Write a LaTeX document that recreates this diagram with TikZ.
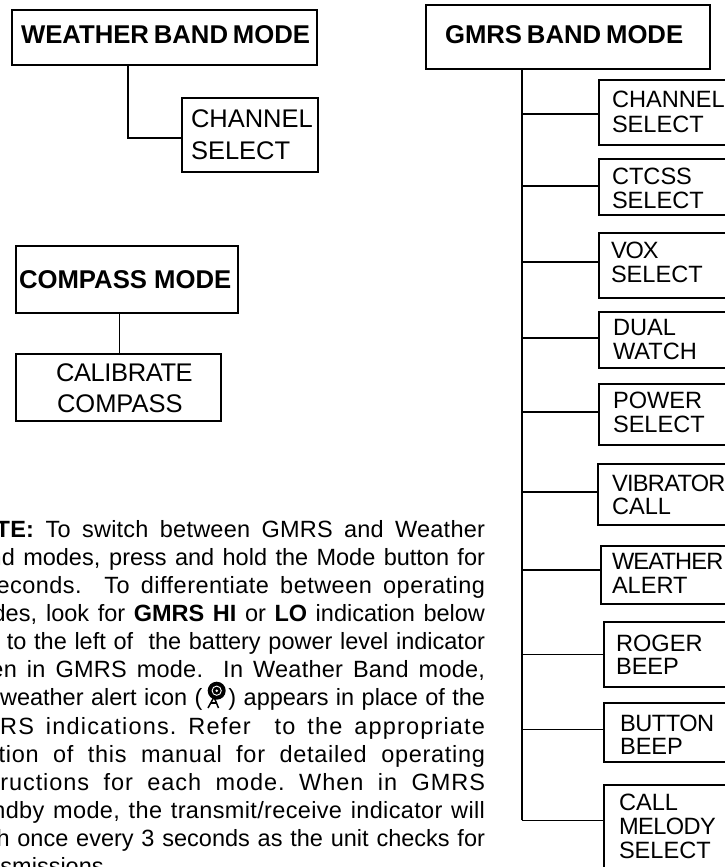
\documentclass[tikz,border=0pt]{standalone}
\usepackage{fontspec}
\setmainfont{Liberation Sans}
\newcommand{\nln}[1]{\makebox[525pt][s]{#1}\\}
\newcommand{\lsp}[2]{\makebox[525pt][s]{\frenchspacing\addfontfeature{LetterSpace=#1}#2}\\}
\newcommand{\hdsp}{\spaceskip=.19em\relax}
\tikzset{
  x=1pt,y=-1pt,
  boxthick/.style={draw=black,line width=2pt,inner sep=0,outer sep=0,anchor=north west},
  wire/.style={draw=black,line width=2pt,line cap=butt},
  thinwire/.style={draw=black,line width=1pt},
  lbl/.style={inner sep=0,outer sep=0,anchor=base west,font=\fontsize{23.6}{24}\selectfont,text=black},
  biglbl/.style={inner sep=0,outer sep=0,anchor=base west,font=\fontsize{25.5}{26}\selectfont,text=black},
  head/.style={inner sep=0,outer sep=0,anchor=base west,font=\fontsize{25.7}{26}\selectfont\bfseries,text=black},
}
% name, x1, y1, x2, y2
\newcommand{\bx}[5]{\node[boxthick,minimum width={#4-#2},minimum height={#5-#3}] (#1) at (#2,#3) {};}
\begin{document}
\begin{tikzpicture}
\useasboundingbox (0,0) rectangle (725,867);
\clip (0,0) rectangle (725,867);
% weather band
\bx{wb}{12}{10}{317}{65}
\node[head] (wbt) at (21,44) {\hdsp WEATHER BAND MODE};
\bx{wc}{182}{98}{318}{172}
\node[biglbl] (wc1) at (191,127) {CHANNEL};
\node[biglbl] (wc2) at (191,159) {SELECT};
\coordinate (wbj) at (128,138);
\draw[wire] (wbj |- wb.south) -- (wbj) -- (wbj -| wc.west);
% compass
\bx{cm}{16}{246}{238}{313}
\node[head] (cmt) at (19,288) {\spaceskip=.28em\relax COMPASS MODE};
\bx{cc}{16}{354}{221}{421}
\node[biglbl] (cc1) at (56,381) {\addfontfeature{LetterSpace=-1.5}CALIBRATE};
\node[biglbl] (cc2) at (57,412) {COMPASS};
\coordinate (ccj) at (119.5,330);
\draw[thinwire] (ccj |- cm.south) -- (ccj |- cc.north);
% gmrs
\bx{gm}{425.5}{5}{710}{69}
\node[head] (gmt) at (445,44) {\hdsp GMRS BAND MODE};
\coordinate (tr) at (521.7,820);
\draw[wire] (tr |- gm.south) -- (tr);
\bx{g1}{599}{80}{745}{145}
\node[lbl] (g1a) at (612,107) {CHANNEL};
\node[lbl] (g1b) at (612,132) {SELECT};
\bx{g2}{599}{159}{745}{215}
\node[lbl] (g2a) at (612,184) {CTCSS};
\node[lbl] (g2b) at (612,208) {SELECT};
\bx{g3}{599}{233}{745}{298}
\node[lbl] (g3a) at (611,258) {\addfontfeature{LetterSpace=-5}VOX};
\node[lbl] (g3b) at (611,282) {SELECT};
\bx{g4}{599}{312}{745}{368}
\node[lbl] (g4a) at (613,335) {DUAL};
\node[lbl] (g4b) at (613,359) {WATCH};
\bx{g5}{599}{384}{745}{445}
\node[lbl] (g5a) at (613,408) {POWER};
\node[lbl] (g5b) at (613,432) {SELECT};
\bx{g6}{598}{464}{745}{525}
\node[lbl] (g6a) at (612,491) {\addfontfeature{LetterSpace=-3}VIBRATOR};
\node[lbl] (g6b) at (612,514) {CALL};
\bx{g7}{601}{546}{745}{604}
\node[lbl] (g7a) at (612,569) {\addfontfeature{LetterSpace=-3.5}WEATHER};
\node[lbl] (g7b) at (612,593) {ALERT};
\bx{g8}{604}{622}{745}{687}
\node[lbl] (g8a) at (616,651) {ROGER};
\node[lbl] (g8b) at (616,674) {BEEP};
\bx{g9}{604}{703}{745}{762}
\node[lbl] (g9a) at (620,731) {\addfontfeature{LetterSpace=-2}BUTTON};
\node[lbl] (g9b) at (620,754) {BEEP};
\bx{g10}{604}{785}{745}{885}
\node[lbl] (g10a) at (619,810) {CALL};
\node[lbl] (g10b) at (619,834) {\addfontfeature{LetterSpace=-2.5}MELODY};
\node[lbl] (g10c) at (619,858) {SELECT};
\foreach \nm/\yy in {g1/114,g2/186,g3/262,g4/338,g5/412,g6/492,g7/570}
  \draw[wire] (tr |- 0,\yy) -- (\nm.west |- 0,\yy);
\foreach \nm/\yy in {g8/654,g9/729,g10/820}
  \draw[thinwire] (tr |- 0,\yy) -- (\nm.west |- 0,\yy);
% note
\node[inner sep=0,outer sep=0,anchor=base west,text=black] (note) at (-40,537.3) {%
\parbox[t]{525pt}{\fontsize{23.5}{28.1}\selectfont
\lsp{1}{\textbf{NOTE:} To switch between GMRS and Weather}
\nln{Band modes, press and hold the Mode button for}
\lsp{2}{3 seconds.\ \ To differentiate between operating}
\nln{modes, look for \textbf{GMRS HI} or \textbf{LO} indication below}
\nln{and to the left of\ \ the battery power level indicator}
\lsp{1}{when in GMRS mode.\ \ In Weather Band mode,}
\nln{the weather alert icon (\hspace{26pt}) appears in place of the}
\lsp{5}{GMRS indications. Refer\ \ to the appropriate}
\lsp{3}{section of this manual for detailed operating}
\lsp{4}{instructions for each mode. When in GMRS}
\lsp{1.5}{standby mode, the transmit/receive indicator will}
\nln{flash once every 3 seconds as the unit checks for}
transmissions.}};
% weather alert icon
\fill[black] (216.7,690.7) circle[radius=9];
\draw[white,line width=.9pt] (216.7,690.7) circle[radius=4.6];
\fill[white] (216.7,690.7) circle[radius=1.4];
\draw[black,line width=1.5pt] (208,708) -- (214,697) -- (218.5,708);
\draw[black,line width=1.2pt] (210.5,703) -- (217,703);
\end{tikzpicture}
\end{document}
